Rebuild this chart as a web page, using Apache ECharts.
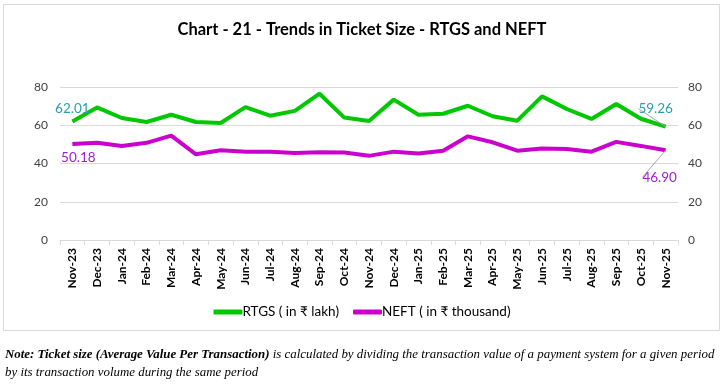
<!DOCTYPE html>
<html>
<head>
<meta charset="utf-8">
<script src="https://cdn.jsdelivr.net/npm/echarts@6/dist/echarts.min.js"></script>
<style>html,body{margin:0;padding:0;background:#fff}#c{width:724px;height:386px}</style>
</head>
<body>
<div id="c"></div>
<script>
const categories = ['Nov-23','Dec-23','Jan-24','Feb-24','Mar-24','Apr-24','May-24','Jun-24','Jul-24','Aug-24','Sep-24','Oct-24','Nov-24','Dec-24','Jan-25','Feb-25','Mar-25','Apr-25','May-25','Jun-25','Jul-25','Aug-25','Sep-25','Oct-25','Nov-25'];
const rtgs = [62.01,69.3,63.8,61.7,65.5,61.7,61.2,69.5,65.0,67.5,76.5,64.0,62.2,73.4,65.5,66.0,70.2,64.7,62.4,75.1,68.5,63.3,71.1,63.4,59.26];
const neft = [50.18,50.8,49.2,50.8,54.6,44.8,46.9,46.2,46.2,45.5,45.9,45.7,44.0,46.2,45.2,46.7,54.2,51.1,46.7,47.9,47.6,46.2,51.3,49.2,46.90];
const yTicks = [0,20,40,60,80];
const titleText = 'Chart - 21 - Trends in Ticket Size - RTGS and NEFT';
const rtgsName = 'RTGS ( in ₹ lakh)';
const neftName = 'NEFT ( in ₹ thousand)';
const noteBold = 'Note: Ticket size (Average Value Per Transaction)';
const noteRest = ' is calculated by dividing the transaction value of a payment system for a given period';
const noteLine2 = 'by its transaction volume during the same period';

const GREEN = '#00c800', PURPLE = '#cc00cc', TEAL = '#2a9fa8', LPURP = '#a020d0';
const last = categories.length - 1;

function withLabels(vals, firstLbl, lastLbl) {
  return vals.map((v, i) => {
    if (i === 0) return {value: v, label: Object.assign({show: true}, firstLbl), labelLine: {show: false}};
    if (i === last) return {value: v, label: Object.assign({show: true}, lastLbl)};
    return v;
  });
}
const fmt = p => p.value.toFixed(2);
const lblFont = {fontFamily: 'Lato', fontSize: 13.5, fontWeight: 'normal'};

const chart = echarts.init(document.getElementById('c'), null, {renderer: 'canvas'});
chart.setOption({
  animation: false,
  backgroundColor: '#fff',
  title: {text: titleText, left: 'center', top: 16,
    textStyle: {fontFamily: 'Lato', fontWeight: 'bold', fontSize: 16.5, color: '#000'}},
  grid: {left: 60, right: 46, top: 87, bottom: 146, containLabel: false},
  legend: {bottom: 62, left: 'center', itemWidth: 29, itemHeight: 5, itemGap: 14, icon: 'roundRect',
    textStyle: {fontFamily: 'Lato', fontSize: 13.5, color: '#000', padding: [0,0,0,-5]},
    data: [rtgsName, neftName]},
  xAxis: {type: 'category', data: categories, boundaryGap: true,
    axisLine: {lineStyle: {color: '#d9d9d9'}},
    axisTick: {show: true, length: 5, lineStyle: {color: '#d9d9d9'}},
    axisLabel: {rotate: 90, interval: 0, fontFamily: 'Lato', fontWeight: 'bold', fontSize: 12, color: '#000', margin: 8}},
  yAxis: [
    {type: 'value', min: 0, max: 80, interval: 20,
      splitLine: {lineStyle: {color: '#d9d9d9'}}, axisLine: {show: false}, axisTick: {show: false},
      axisLabel: {fontFamily: 'Lato', fontSize: 12, color: '#404040', margin: 12}},
    {type: 'value', min: 0, max: 80, interval: 20, position: 'right',
      splitLine: {show: false}, axisLine: {show: false}, axisTick: {show: false},
      axisLabel: {fontFamily: 'Lato', fontSize: 12, color: '#404040', margin: 10}}
  ],
  series: [
    {name: rtgsName, type: 'line', yAxisIndex: 0, symbol: 'circle', symbolSize: 0, showSymbol: true, color: GREEN,
      lineStyle: {width: 4, color: GREEN},
      label: {formatter: fmt},
      labelLine: {show: true, lineStyle: {color: '#a6a6a6', width: 1}},
      labelLayout: p => p.dataIndex === last ? {dx: -10, dy: -9} : {},
      data: withLabels(rtgs, Object.assign({position: 'top', color: TEAL, distance: 6, offset: [15, -2]}, lblFont),
                             Object.assign({position: 'top', color: TEAL, distance: 2}, lblFont))},
    {name: neftName, type: 'line', yAxisIndex: 0, symbol: 'circle', symbolSize: 0, showSymbol: true, color: PURPLE,
      lineStyle: {width: 4, color: PURPLE},
      label: {formatter: fmt},
      labelLine: {show: true, lineStyle: {color: '#a6a6a6', width: 1}},
      labelLayout: p => p.dataIndex === last ? {dx: -6, dy: 18} : (p.dataIndex === 0 ? {dx: 6, dy: 0} : {}),
      data: withLabels(neft, Object.assign({position: 'bottom', color: LPURP, distance: 7}, lblFont),
                             Object.assign({position: 'bottom', color: LPURP, distance: 2}, lblFont))}
  ],
  graphic: [
    {type: 'rect', shape: {x: 3.5, y: 4.5, width: 716, height: 326}, style: {fill: 'none', stroke: '#d9d9d9', lineWidth: 1}, silent: true, z: -1},
    {type: 'text', left: 5, top: 348, style: {
      text: '{b|' + noteBold + '}{r|' + noteRest + '}',
      rich: {b: {font: 'italic bold 12.9px "Liberation Serif"', fill: '#000'}, r: {font: 'italic 12.9px "Liberation Serif"', fill: '#000'}}}},
    {type: 'text', left: 5, top: 366, style: {text: noteLine2, font: 'italic 12.9px "Liberation Serif"', fill: '#000'}}
  ]
});
</script>
</body>
</html>
